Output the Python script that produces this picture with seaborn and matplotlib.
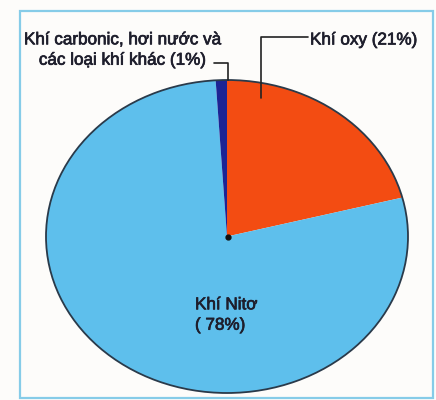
import matplotlib
matplotlib.use("Agg")
import matplotlib.pyplot as plt
import matplotlib.patheffects as pe
import seaborn as sns
from matplotlib.patches import Rectangle

# Data
labels = ["Khí oxy (21%)", "Khí Nitơ\n( 78%)", "Khí carbonic, hơi nước và\ncác loại khí khác (1%)"]
values = [21, 78, 1]
colors = ["#f34c12", "#5ebfec", "#1c2494"]

sns.set_theme(style="white")
plt.rcParams['font.family'] = ['Liberation Sans', 'DejaVu Sans']

W, H = 436, 400
fig = plt.figure(figsize=(W / 100, H / 100), dpi=100, facecolor="#fdfcfa")
ax = fig.add_axes([0, 0, 1, 1])
ax.set_facecolor("#fdfcfa")

# pixel geometry of the (elliptical) pie
cx, cy, rx, ry = 227, 236.5, 181, 156.5

def P(x, y):
    return ((x - cx) / rx, (cy - y) / ry)

ax.pie(values, colors=sns.color_palette(colors), startangle=90, counterclock=False,
       wedgeprops=dict(linewidth=0))
# outline of the pie
ax.pie([1], colors=["none"], wedgeprops=dict(linewidth=1.3, edgecolor="#2a3a4a", facecolor="none"))
ax.set_aspect("auto")
ax.set_xlim(P(0, 0)[0], P(W, 0)[0])
ax.set_ylim(P(0, H)[1], P(0, 0)[1])
ax.axis("off")

# frame
fig.patches.append(Rectangle((20 / W, 1 - 398 / H), (433 - 20) / W, (398 - 11) / H,
                             transform=fig.transFigure, fill=False,
                             edgecolor="#86cce8", linewidth=1.6))

txt = "#1e1e2c"
fs = 12.3
stroke = [pe.withStroke(linewidth=0.5, foreground=txt)]
# oxygen label
ax.text(*P(310, 40), labels[0], ha="left", va="center", fontsize=fs, color=txt,
        path_effects=stroke)
xs, ys = zip(P(308, 37), P(261, 37), P(261, 98))
ax.plot(xs, ys, color="#222222", lw=1.2)

# carbonic label
ax.text(*P(123, 50), labels[2], ha="center", va="center", fontsize=fs, color=txt,
        multialignment="center", linespacing=1.45, path_effects=stroke)
xs, ys = zip(P(214, 63), P(228, 63), P(228, 80))
ax.plot(xs, ys, color="#222222", lw=1.2)

# nitrogen label
ax.text(*P(195, 315), labels[1], ha="left", va="center", fontsize=fs, color=txt,
        linespacing=1.45, path_effects=stroke)

# center dot
ax.plot(*P(228, 237), marker="o", markersize=3.5, color="#111111")

fig.savefig("out.png", dpi=100, facecolor=fig.get_facecolor())
